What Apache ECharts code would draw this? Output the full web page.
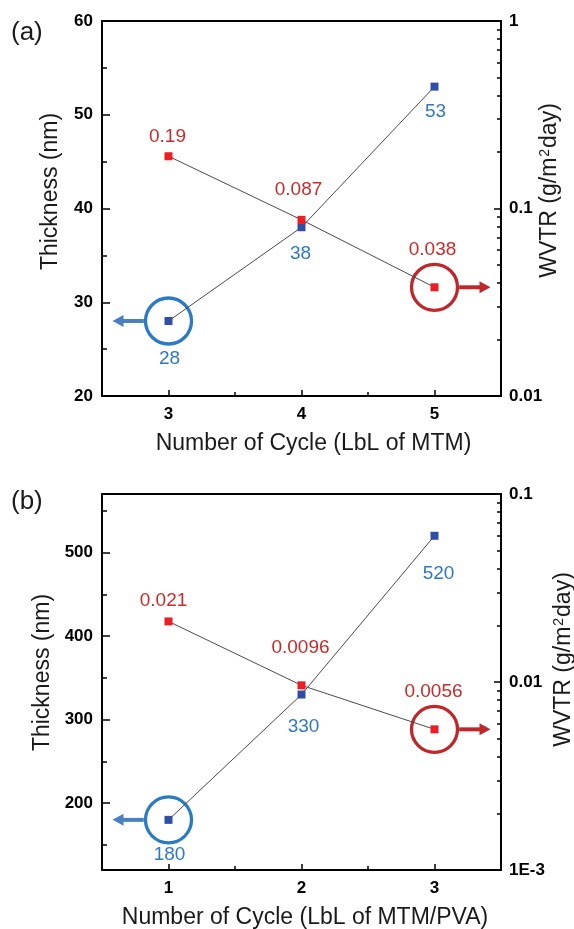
<!DOCTYPE html>
<html><head><meta charset="utf-8">
<script src="https://cdn.jsdelivr.net/npm/echarts@6/dist/echarts.min.js"></script>
<style>html,body{margin:0;padding:0;background:#fff}#c{width:574px;height:929px}</style>
</head><body><div id="c"></div>
<script>
// ---------- data ----------
const cyclesA = [3, 4, 5];
const thicknessA = [28, 38, 53];
const wvtrA = [0.19, 0.087, 0.038];
const cyclesB = [1, 2, 3];
const thicknessB = [180, 330, 520];
const wvtrB = [0.021, 0.0096, 0.0056];

// ---------- ticks ----------
const xTicksA = [3, 4, 5];
const xMinorA = [3.5, 4.5];
const xTicksB = [1, 2, 3];
const xMinorB = [1.5, 2.5];
const yTicksA = [20, 30, 40, 50, 60];
const yMinorA = [25, 35, 45, 55];
const yTicksB = [200, 300, 400, 500];
const yMinorB = [150, 250, 350, 450, 550];
const logTicksA = [0.01, 0.1, 1];
const logLabelsA = ['0.01', '0.1', '1'];
const logMinorA = [0.02, 0.03, 0.04, 0.05, 0.06, 0.07, 0.08, 0.09, 0.2, 0.3, 0.4, 0.5, 0.6, 0.7, 0.8, 0.9];
const logTicksB = [0.001, 0.01, 0.1];
const logLabelsB = ['1E-3', '0.01', '0.1'];
const logMinorB = [0.002, 0.003, 0.004, 0.005, 0.006, 0.007, 0.008, 0.009, 0.02, 0.03, 0.04, 0.05, 0.06, 0.07, 0.08, 0.09];

// ---------- layout (label placement) ----------
const thickDistA = [24, 13, 12], thickDxA = [1, -1, 1];
const wvtrDistA = [6, 17, 24], wvtrDxA = [-1, -3, -2];
const thickDistB = [21, 19, 24], thickDxB = [1, 2, 4];
const wvtrDistB = [7, 24, 24], wvtrDxB = [-5, -1, -1];

const FONT = '"Liberation Sans", Arial, sans-serif';
const BLUE_MK = '#2f4fa6', RED_MK = '#ee1d23';
const BLUE_TX = '#2f78c4', RED_TX = '#cc2a2a';
const BLUE_RING = '#2a7ac6', RED_RING = '#c0272b';
const BLUE_ARROW = '#4a80c2', RED_ARROW = '#c0272b';
const TITLE_SIZE = 23;

function pts(xs, ys, dists, dxs) {
  return xs.map((x, i) => ({ value: [x, ys[i]], label: { distance: dists[i], offset: [dxs[i], 0] } }));
}
const tickLbl = { fontFamily: FONT, fontWeight: 'bold', fontSize: 17, color: '#000' };

function xAxes(grid, min, max, ticks, minor, name, shiftPad) {
  return [
    { type: 'value', gridIndex: grid, min, max, position: 'bottom',
      name, nameLocation: 'middle', nameGap: 36,
      nameTextStyle: { fontFamily: FONT, fontSize: TITLE_SIZE, color: '#1a1a1a', padding: [0, 0, 0, shiftPad] },
      axisLine: { show: true, lineStyle: { color: '#000', width: 2 } },
      axisTick: { show: true, inside: true, length: 6, customValues: ticks, lineStyle: { color: '#000', width: 1.5 } },
      axisLabel: Object.assign({ show: true, margin: 10, customValues: ticks }, tickLbl),
      splitLine: { show: false } },
    { type: 'value', gridIndex: grid, min, max, position: 'bottom',
      axisLine: { show: false },
      axisTick: { show: true, inside: true, length: 4, customValues: minor, lineStyle: { color: '#000', width: 1.5 } },
      axisLabel: { show: false }, splitLine: { show: false } }
  ];
}
function yAxes(grid, min, max, ticks, minor, lmin, lmax, lticks, llabels, lminor, padL, padR, gapR) {
  return [
    { type: 'value', gridIndex: grid, min, max, position: 'left',
      name: 'Thickness (nm)', nameLocation: 'middle', nameRotate: 90, nameGap: 40,
      nameTextStyle: { fontFamily: FONT, fontSize: TITLE_SIZE, color: '#1a1a1a', padding: [0, 0, 0, padL] },
      axisLine: { show: true, lineStyle: { color: '#000', width: 2 } },
      axisTick: { show: true, inside: true, length: 8, customValues: ticks, lineStyle: { color: '#000', width: 1.5 } },
      axisLabel: Object.assign({ show: true, margin: 9, customValues: ticks }, tickLbl),
      splitLine: { show: false } },
    { type: 'value', gridIndex: grid, min, max, position: 'left',
      axisLine: { show: false },
      axisTick: { show: true, inside: true, length: 5, customValues: minor, lineStyle: { color: '#000', width: 1.5 } },
      axisLabel: { show: false }, splitLine: { show: false } },
    { type: 'log', logBase: 10, gridIndex: grid, min: lmin, max: lmax, position: 'right',
      name: 'WVTR (g/m{s|2}day)', nameLocation: 'middle', nameRotate: 90, nameGap: gapR, nameMoveOverlap: false,
      nameTextStyle: { fontFamily: FONT, fontSize: TITLE_SIZE, color: '#1a1a1a', padding: [0, 0, 0, padR],
        rich: { s: { fontFamily: FONT, fontSize: 14, color: '#1a1a1a', verticalAlign: 'top', padding: [0, 1, 9, 1] } } },
      axisLine: { show: true, lineStyle: { color: '#000', width: 2 } },
      axisTick: { show: true, inside: true, length: 7, customValues: lticks, lineStyle: { color: '#000', width: 1.5 } },
      axisLabel: Object.assign({ show: true, margin: 8, customValues: lticks,
        formatter: v => {
          for (let i = 0; i < lticks.length; i++) {
            if (Math.abs(Math.log10(v) - Math.log10(lticks[i])) < 1e-6) return llabels[i];
          }
          return '';
        } }, tickLbl),
      splitLine: { show: false } },
    { type: 'log', logBase: 10, gridIndex: grid, min: lmin, max: lmax, position: 'right',
      axisLine: { show: false },
      axisTick: { show: true, inside: true, length: 4, customValues: lminor, lineStyle: { color: '#000', width: 1.5 } },
      axisLabel: { show: false }, splitLine: { show: false } }
  ];
}

function lineSeries(xi, yi, data, mk, tx, pos) {
  return { type: 'line', xAxisIndex: xi, yAxisIndex: yi, data,
    symbol: 'rect', symbolSize: 8, itemStyle: { color: mk },
    lineStyle: { color: '#4a4a4a', width: 1 },
    label: { show: true, position: pos, color: tx, fontFamily: FONT, fontSize: 19,
      formatter: p => String(p.value[1]) },
    z: 3, animation: false };
}
function ringSeries(xi, yi, point, ring, arrow, dir) {
  return { type: 'custom', xAxisIndex: xi, yAxisIndex: yi, data: [point], z: 2, silent: true, clip: false,
    renderItem: (params, api) => {
      const c = api.coord([api.value(0), api.value(1)]);
      const r = 23, sw = 3.3, hl = 11, hw = 6;
      const x0 = c[0] + dir * (r + sw / 2);
      const tip = c[0] + dir * 56;
      return { type: 'group', children: [
        { type: 'circle', shape: { cx: c[0], cy: c[1], r }, style: { fill: 'none', stroke: ring, lineWidth: sw } },
        { type: 'line', shape: { x1: x0, y1: c[1], x2: tip - dir * hl + dir, y2: c[1] }, style: { stroke: arrow, lineWidth: 4 } },
        { type: 'polygon', shape: { points: [[tip, c[1]], [tip - dir * hl, c[1] - hw], [tip - dir * hl, c[1] + hw]] }, style: { fill: arrow } }
      ] };
    } };
}

const chart = echarts.init(document.getElementById('c'), null, { renderer: 'canvas' });
chart.setOption({
  animation: false,
  backgroundColor: '#fff',
  title: [
    { text: '(a)', left: 11, top: 20, padding: 0, textStyle: { fontFamily: FONT, fontSize: 26, fontWeight: 'normal', color: '#1a1a1a' } },
    { text: '(b)', left: 11, top: 489, padding: 0, textStyle: { fontFamily: FONT, fontSize: 26, fontWeight: 'normal', color: '#1a1a1a' } }
  ],
  grid: [
    { left: 102, top: 21, width: 399, height: 375, show: true, borderColor: '#000', borderWidth: 2, backgroundColor: 'transparent', outerBoundsMode: 'none' },
    { left: 102, top: 494, width: 399, height: 376, show: true, borderColor: '#000', borderWidth: 2, backgroundColor: 'transparent', outerBoundsMode: 'none' }
  ],
  xAxis: [].concat(
    xAxes(0, 2.5, 5.5, xTicksA, xMinorA, 'Number of Cycle (LbL of MTM)', 24),
    xAxes(1, 0.5, 3.5, xTicksB, xMinorB, 'Number of Cycle (LbL of MTM/PVA)', 7)
  ),
  yAxis: [].concat(
    yAxes(0, 20, 60, yTicksA, yMinorA, 0.01, 1, logTicksA, logLabelsA, logMinorA, 34, 36, 37),
    yAxes(1, 120, 570, yTicksB, yMinorB, 0.001, 0.1, logTicksB, logLabelsB, logMinorB, 19, 45, 51)
  ),
  series: [
    lineSeries(0, 0, pts(cyclesA, thicknessA, thickDistA, thickDxA), BLUE_MK, BLUE_TX, 'bottom'),
    lineSeries(0, 2, pts(cyclesA, wvtrA, wvtrDistA, wvtrDxA), RED_MK, RED_TX, 'top'),
    ringSeries(0, 0, [cyclesA[0], thicknessA[0]], BLUE_RING, BLUE_ARROW, -1),
    ringSeries(0, 2, [cyclesA[2], wvtrA[2]], RED_RING, RED_ARROW, 1),
    lineSeries(2, 4, pts(cyclesB, thicknessB, thickDistB, thickDxB), BLUE_MK, BLUE_TX, 'bottom'),
    lineSeries(2, 6, pts(cyclesB, wvtrB, wvtrDistB, wvtrDxB), RED_MK, RED_TX, 'top'),
    ringSeries(2, 4, [cyclesB[0], thicknessB[0]], BLUE_RING, BLUE_ARROW, -1),
    ringSeries(2, 6, [cyclesB[2], wvtrB[2]], RED_RING, RED_ARROW, 1)
  ]
});
</script></body></html>
